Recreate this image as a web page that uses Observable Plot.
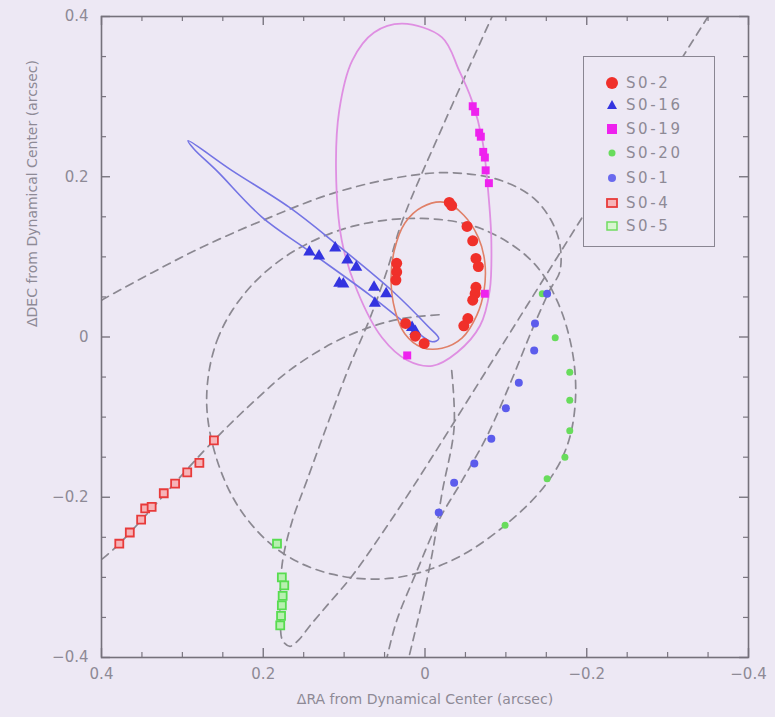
<!DOCTYPE html>
<html><head><meta charset="utf-8">
<script src="https://cdn.jsdelivr.net/npm/d3@7"></script>
<script src="https://cdn.jsdelivr.net/npm/@observablehq/plot@0.6"></script>
<style>
html,body{margin:0;padding:0;background:#ede8f4;}
#wrap{position:relative;width:775px;height:717px;overflow:hidden;background:#ede8f4;}
#legend{position:absolute;left:583px;top:56px;width:132px;height:191px;border:1.6px solid #8a8692;box-sizing:border-box;font-family:"DejaVu Sans",sans-serif;font-size:15px;color:#8e8a96;background:#ede8f4;}
#legend .row{position:absolute;left:0;height:20px;display:flex;align-items:center;}
#legend svg{margin-left:20px;margin-right:6px;}
#legend span{letter-spacing:2.6px;}
</style></head><body><div id="wrap"></div>
<script>
// ---- axis ticks ----
const majorTicks = [0.4, 0.2, 0, -0.2, -0.4];
const majorLabels = ["0.4", "0.2", "0", "\u22120.2", "\u22120.4"];
const minorTicks = [0.35, 0.3, 0.25, 0.15, 0.1, 0.05, -0.05, -0.1, -0.15, -0.25, -0.3, -0.35];
const xTitle = "\u0394RA from Dynamical Center (arcsec)";
const yTitle = "\u0394DEC from Dynamical Center (arcsec)";
const legendNames = ["S0-2", "S0-16", "S0-19", "S0-20", "S0-1", "S0-4", "S0-5"];

// ---- measured positions (arcsec) ----
const s02X = [-0.030, -0.033, -0.052, -0.059, -0.063, -0.066, -0.063, -0.062, -0.059, -0.053, -0.048, 0.035, 0.035, 0.036, 0.024, 0.012, 0.001];
const s02Y = [0.168, 0.164, 0.138, 0.120, 0.098, 0.088, 0.062, 0.054, 0.046, 0.023, 0.014, 0.092, 0.081, 0.071, 0.017, 0.001, -0.008];
const s016X = [0.143, 0.131, 0.111, 0.096, 0.085, 0.106, 0.101, 0.063, 0.048, 0.062, 0.016, 0.012];
const s016Y = [0.106, 0.101, 0.111, 0.096, 0.087, 0.067, 0.066, 0.062, 0.054, 0.042, 0.012, 0.007];
const s019X = [-0.059, -0.062, -0.067, -0.069, -0.072, -0.074, -0.075, -0.079, -0.074, 0.022];
const s019Y = [0.288, 0.281, 0.255, 0.250, 0.231, 0.224, 0.208, 0.192, 0.054, -0.023];
const s020X = [-0.145, -0.161, -0.179, -0.179, -0.179, -0.173, -0.151, -0.099];
const s020Y = [0.054, -0.001, -0.044, -0.079, -0.117, -0.150, -0.177, -0.235];
const s01X = [-0.151, -0.136, -0.135, -0.116, -0.100, -0.082, -0.061, -0.036, -0.017];
const s01Y = [0.054, 0.017, -0.017, -0.057, -0.089, -0.127, -0.158, -0.182, -0.219];
const s04X = [0.378, 0.365, 0.351, 0.346, 0.338, 0.323, 0.309, 0.294, 0.279, 0.261];
const s04Y = [-0.258, -0.244, -0.228, -0.214, -0.212, -0.195, -0.183, -0.169, -0.157, -0.129];
const s05X = [0.183, 0.177, 0.174, 0.176, 0.177, 0.178, 0.179];
const s05Y = [-0.258, -0.300, -0.310, -0.323, -0.335, -0.348, -0.360];

// ---- fitted orbits ----
const orb02X = [-0.025, -0.048, -0.066, -0.074, -0.073, -0.064, -0.046, -0.021, 0.004, 0.025, 0.037, 0.042, 0.038, 0.025, 0.004];
const orb02Y = [0.168, 0.152, 0.124, 0.093, 0.058, 0.027, -0.001, -0.014, -0.013, 0.004, 0.033, 0.071, 0.108, 0.142, 0.162];
const orb016X = [0.293, 0.239, 0.168, 0.111, 0.041, -0.003, -0.017, -0.009, 0.016, 0.069, 0.143, 0.202, 0.257, 0.286];
const orb016Y = [0.245, 0.208, 0.162, 0.117, 0.058, 0.014, -0.002, -0.006, 0.011, 0.053, 0.107, 0.150, 0.207, 0.235];
const orb019X = [0.028, -0.021, -0.042, -0.058, -0.071, -0.078, -0.082, -0.080, -0.068, -0.040, -0.009, 0.022, 0.053, 0.084, 0.103, 0.110, 0.106, 0.090, 0.063];
const orb019Y = [0.391, 0.374, 0.333, 0.295, 0.245, 0.183, 0.121, 0.058, 0.014, -0.019, -0.036, -0.029, -0.001, 0.058, 0.121, 0.208, 0.283, 0.345, 0.380];
// dashed orbits
const orb20X = [0.270, 0.257, 0.220, 0.164, 0.090, 0.004, -0.070, -0.132, -0.163, -0.182, -0.186, -0.176, -0.151, -0.099, -0.033, 0.041, 0.115, 0.177, 0.226, 0.257];
const orb20Y = [-0.079, -0.004, 0.058, 0.106, 0.138, 0.148, 0.135, 0.095, 0.046, -0.017, -0.079, -0.135, -0.182, -0.235, -0.279, -0.301, -0.296, -0.269, -0.219, -0.154];
const orb1X = [0.400, 0.338, 0.276, 0.202, 0.115, 0.028, -0.033, -0.095, -0.138, -0.164, -0.167, -0.154, -0.132, -0.107, -0.077, -0.046, -0.017, 0.010, 0.035, 0.047];
const orb1Y = [0.046, 0.080, 0.112, 0.145, 0.179, 0.200, 0.205, 0.195, 0.170, 0.127, 0.083, 0.058, 0.008, -0.054, -0.123, -0.179, -0.229, -0.292, -0.354, -0.400];
const orb5X = [-0.350, -0.281, -0.219, -0.157, -0.095, -0.033, 0.016, 0.053, 0.090, 0.121, 0.142, 0.157, 0.167, 0.176, 0.179, 0.179, 0.176, 0.164, 0.146, 0.121, 0.094, 0.069, 0.047, 0.028, -0.025, -0.083];
const orb5Y = [0.400, 0.289, 0.189, 0.089, -0.011, -0.111, -0.189, -0.245, -0.298, -0.335, -0.360, -0.379, -0.386, -0.379, -0.354, -0.323, -0.279, -0.229, -0.179, -0.110, -0.038, 0.021, 0.083, 0.145, 0.270, 0.400];
const orb4X = [0.399, 0.378, 0.261, 0.210, 0.168, 0.115, 0.069, 0.028, -0.021];
const orb4Y = [-0.277, -0.258, -0.129, -0.079, -0.042, -0.008, 0.012, 0.023, 0.028];
const dashFX = [-0.033, -0.036, -0.021, -0.009, 0.006, 0.020];
const dashFY = [-0.042, -0.113, -0.195, -0.270, -0.341, -0.400];

const zip = (xs, ys) => xs.map((x, i) => ({x, y: ys[i]}));
const grey = "#8b8891";
const dash = (xs, ys, closed) => Plot.line(zip(xs, ys), {x: "x", y: "y", curve: closed ? "catmull-rom-closed" : "catmull-rom", stroke: grey, strokeWidth: 1.7, strokeDasharray: "8,6", clip: true});
const txt = "#8e8a96";
const PW = 647, PH = 641;

const plot = Plot.plot({
  width: 775, height: 717,
  marginLeft: 101, marginRight: 27, marginTop: 16, marginBottom: 60,
  x: {domain: [0.4, -0.4], axis: null},
  y: {domain: [-0.4, 0.4], axis: null},
  style: {background: "transparent", fontFamily: "DejaVu Sans, sans-serif"},
  marks: [
    dash(orb20X, orb20Y, true),
    dash(orb1X, orb1Y, false),
    dash(orb5X, orb5Y, false),
    dash(orb4X, orb4Y, false),
    dash(dashFX, dashFY, false),
    Plot.line(zip(orb019X, orb019Y), {x: "x", y: "y", curve: "catmull-rom-closed", stroke: "#df8fe2", strokeWidth: 1.8}),
    Plot.line(zip(orb016X, orb016Y), {x: "x", y: "y", curve: "catmull-rom-closed", stroke: "#7474e4", strokeWidth: 1.6}),
    Plot.line(zip(orb02X, orb02Y), {x: "x", y: "y", curve: "catmull-rom-closed", stroke: "#e08068", strokeWidth: 1.6}),
    Plot.dot(zip(s04X, s04Y), {x: "x", y: "y", symbol: "square", r: 4.5, fill: "#f6b4b8", stroke: "#e83a3a", strokeWidth: 1.8}),
    Plot.dot(zip(s05X, s05Y), {x: "x", y: "y", symbol: "square", r: 4.5, fill: "#b8f0b0", stroke: "#58dc50", strokeWidth: 1.8}),
    Plot.dot(zip(s020X, s020Y), {x: "x", y: "y", symbol: "circle", r: 3.5, fill: "#68dc5c"}),
    Plot.dot(zip(s01X, s01Y), {x: "x", y: "y", symbol: "circle", r: 4, fill: "#5c5cec"}),
    Plot.dot(zip(s019X, s019Y), {x: "x", y: "y", symbol: "square", r: 4.5, fill: "#ee22ee"}),
    Plot.dot(zip(s016X, s016Y), {x: "x", y: "y", symbol: "triangle", r: 4.5, fill: "#3434e0"}),
    Plot.dot(zip(s02X, s02Y), {x: "x", y: "y", symbol: "circle", r: 5.5, fill: "#f0302a"}),
    // ticks (inward)
    Plot.tickX(majorTicks, {x: d => d, stroke: "#7a7680", strokeWidth: 1.4, insetTop: PH - 9}),
    Plot.tickX(minorTicks, {x: d => d, stroke: "#7a7680", strokeWidth: 1.2, insetTop: PH - 5}),
    Plot.tickX(majorTicks, {x: d => d, stroke: "#7a7680", strokeWidth: 1.4, insetBottom: PH - 9}),
    Plot.tickX(minorTicks, {x: d => d, stroke: "#7a7680", strokeWidth: 1.2, insetBottom: PH - 5}),
    Plot.tickY(majorTicks, {y: d => d, stroke: "#7a7680", strokeWidth: 1.4, insetRight: PW - 9}),
    Plot.tickY(minorTicks, {y: d => d, stroke: "#7a7680", strokeWidth: 1.2, insetRight: PW - 5}),
    Plot.tickY(majorTicks, {y: d => d, stroke: "#7a7680", strokeWidth: 1.4, insetLeft: PW - 9}),
    Plot.tickY(minorTicks, {y: d => d, stroke: "#7a7680", strokeWidth: 1.2, insetLeft: PW - 5}),
    Plot.frame({stroke: "#75717b", strokeWidth: 1.6}),
    Plot.text(majorTicks, {x: d => d, frameAnchor: "bottom", dy: 21, text: (d, i) => majorLabels[i], fontSize: 15, fill: txt, ariaLabel: "ticklabel"}),
    Plot.text(majorTicks, {y: d => d, frameAnchor: "left", dx: -13, textAnchor: "end", text: (d, i) => majorLabels[i], fontSize: 15, fill: txt, ariaLabel: "ticklabel"}),
    Plot.text([xTitle], {frameAnchor: "bottom", dy: 46, text: d => d, fontSize: 14, fill: txt, ariaLabel: "xtitle"}),
    Plot.text([yTitle], {frameAnchor: "left", dx: -69, dy: -10, rotate: -90, text: d => d, fontSize: 14, fill: txt, ariaLabel: "ytitle"})
  ]
});
document.getElementById("wrap").appendChild(plot);
const svg = d3.select(plot);
svg.selectAll('g[aria-label="ticklabel"] text').style("letter-spacing", "2.5px");
svg.selectAll('g[aria-label="xtitle"] text').attr("textLength", 372).attr("lengthAdjust", "spacing");
svg.selectAll('g[aria-label="ytitle"] text').attr("textLength", 420).attr("lengthAdjust", "spacing");

// ---- legend ----
const legendRows = [
  {t: legendNames[0], s: '<circle cx="8" cy="8" r="6" fill="#f0302a"/>'},
  {t: legendNames[1], s: '<path d="M8 3 L13 12 L3 12 Z" fill="#3434e0"/>'},
  {t: legendNames[2], s: '<rect x="3" y="3" width="10" height="10" fill="#ee22ee"/>'},
  {t: legendNames[3], s: '<circle cx="8" cy="8" r="3.5" fill="#68dc5c"/>'},
  {t: legendNames[4], s: '<circle cx="8" cy="8" r="4" fill="#6a6aee"/>'},
  {t: legendNames[5], s: '<rect x="3" y="4" width="10" height="8" fill="#f6b4b8" stroke="#e83a3a" stroke-width="1.8"/>'},
  {t: legendNames[6], s: '<rect x="3" y="4" width="10" height="8" fill="#d8f5d0" stroke="#70dc60" stroke-width="1.5"/>'}
];
const lg = document.createElement("div");
lg.id = "legend";
const rowTops = [16, 38, 62, 86, 111, 136, 159];
legendRows.forEach((r, i) => {
  const d = document.createElement("div");
  d.className = "row";
  d.style.top = rowTops[i] + "px";
  d.innerHTML = '<svg width="16" height="16">' + r.s + '</svg><span>' + r.t + '</span>';
  lg.appendChild(d);
});
document.getElementById("wrap").appendChild(lg);
</script>
</body></html>
